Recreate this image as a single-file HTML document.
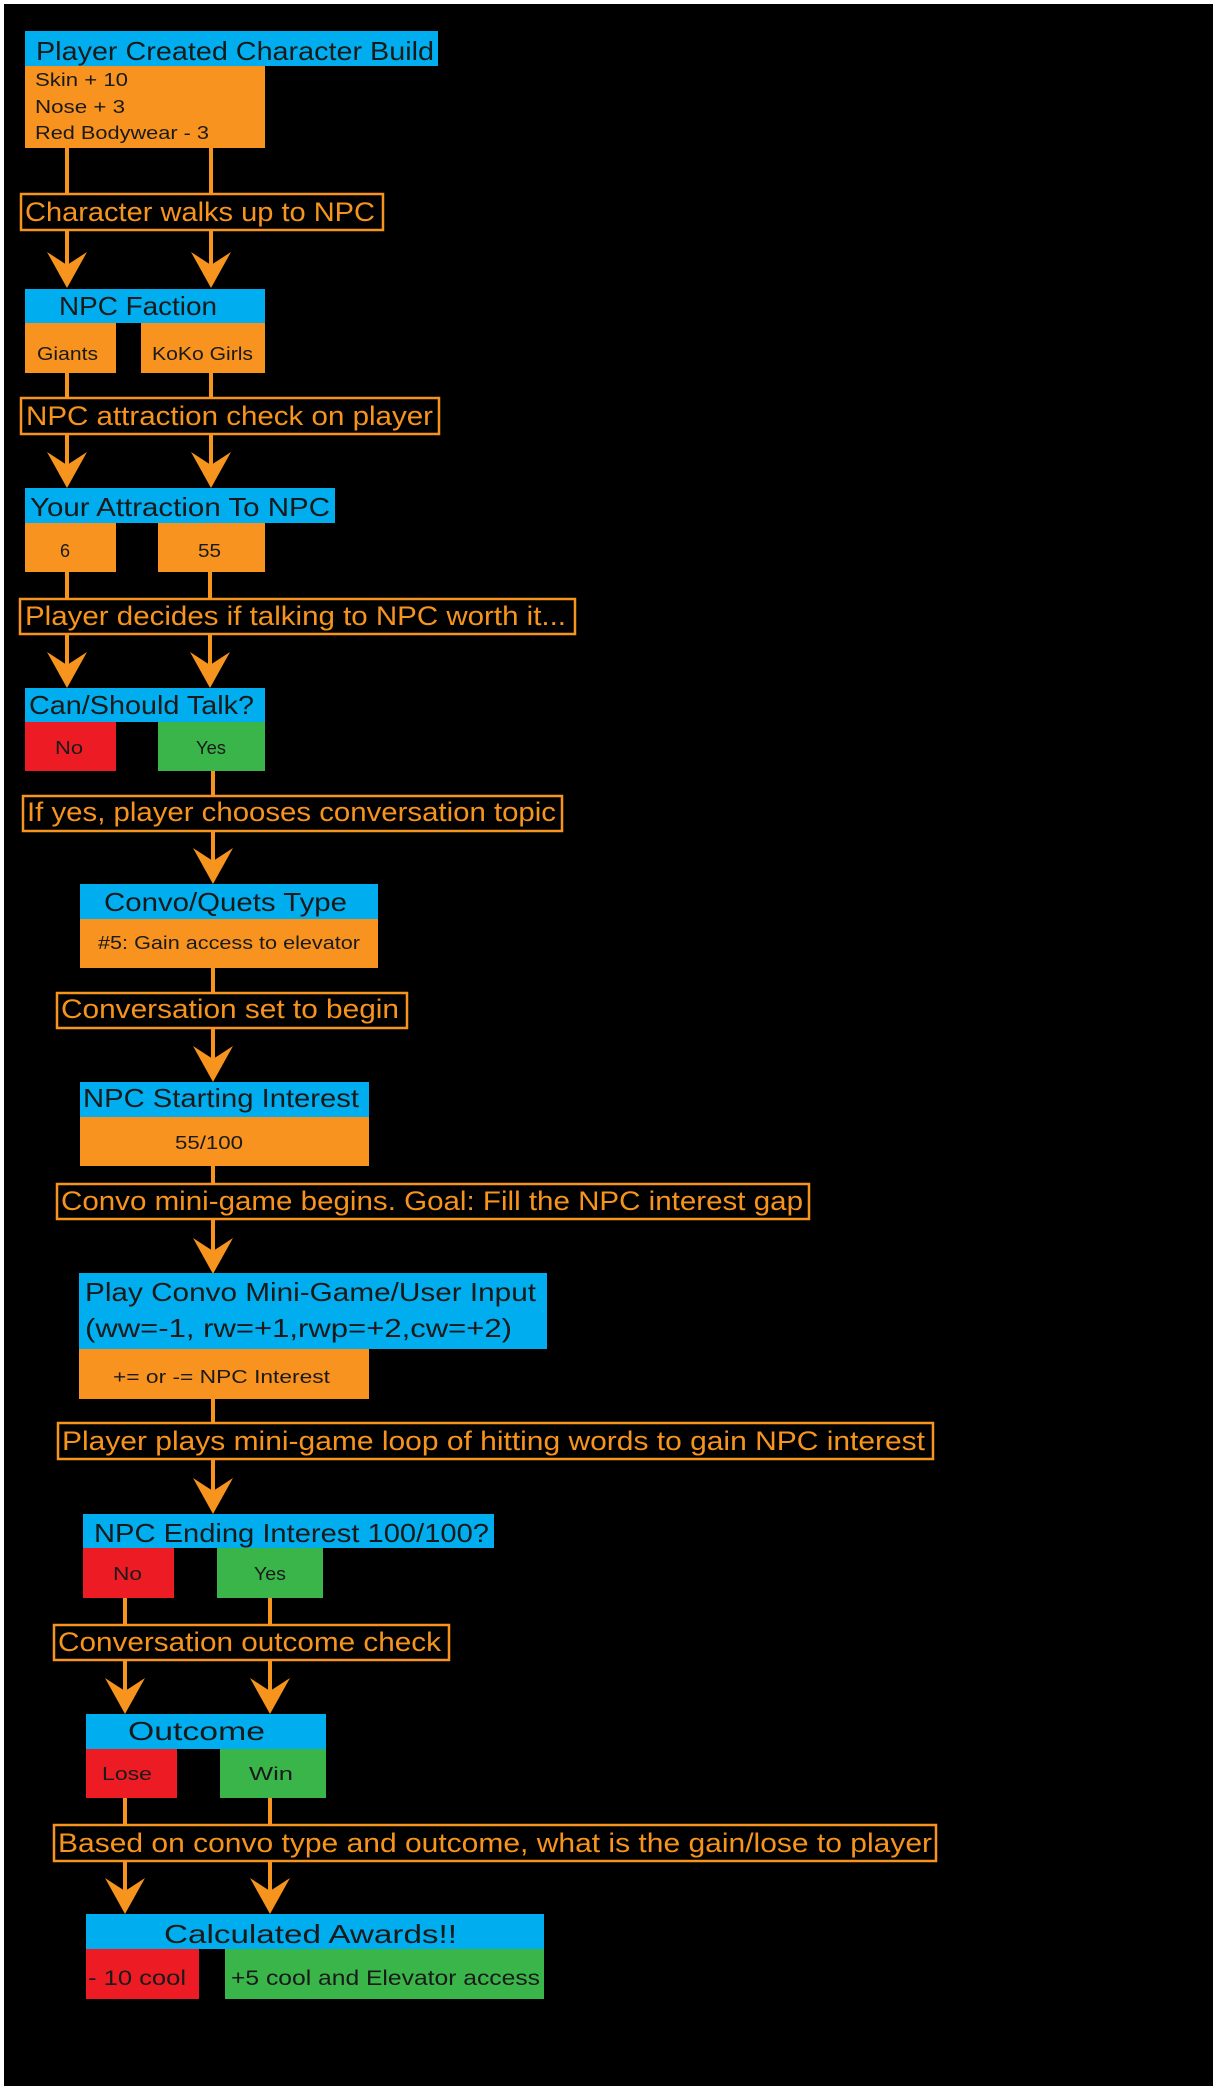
<!DOCTYPE html>
<html><head><meta charset="utf-8"><style>
html,body{margin:0;padding:0;background:#fff;}
svg{display:block;}
text{font-family:"Liberation Sans",sans-serif;}
.h{font-size:26px;fill:#1a1a1a;}
.s{font-size:18px;fill:#1a1a1a;}
.l{font-size:27px;fill:#F7941D;}
.lb{fill:#000;stroke:#F7941D;stroke-width:2.5;}
.ln{stroke:#F7941D;stroke-width:4;}
.ar{fill:#F7941D;}
</style></head><body>
<svg width="1218" height="2090" viewBox="0 0 1218 2090" xmlns="http://www.w3.org/2000/svg">
<defs>
<path id="a" d="M0 0 L-20 -36 L0 -23 L20 -36 Z"/>
</defs>
<rect x="4" y="4" width="1209" height="2082" fill="#000"/>

<!-- Block 1 -->
<rect x="25" y="31" width="413" height="35" fill="#00AEEF"/>
<text class="h" x="36" y="60" textLength="398" lengthAdjust="spacingAndGlyphs">Player Created Character Build</text>
<rect x="25" y="66" width="240" height="82" fill="#F7931E"/>
<text class="s" x="35" y="86" textLength="93" lengthAdjust="spacingAndGlyphs">Skin + 10</text>
<text class="s" x="35" y="113" textLength="90" lengthAdjust="spacingAndGlyphs">Nose + 3</text>
<text class="s" x="35" y="139" textLength="174" lengthAdjust="spacingAndGlyphs">Red Bodywear - 3</text>
<line class="ln" x1="67" y1="148" x2="67" y2="193"/><line class="ln" x1="211" y1="148" x2="211" y2="193"/>
<rect class="lb" x="21" y="194" width="362" height="36"/>
<text class="l" x="25" y="221" textLength="350" lengthAdjust="spacingAndGlyphs">Character walks up to NPC</text>
<line class="ln" x1="67" y1="230" x2="67" y2="275"/><line class="ln" x1="211" y1="230" x2="211" y2="275"/>
<use href="#a" x="67" y="288" class="ar"/><use href="#a" x="211" y="288" class="ar"/>

<rect x="25" y="289" width="240" height="34" fill="#00AEEF"/>
<text class="h" x="59" y="315" textLength="158" lengthAdjust="spacingAndGlyphs">NPC Faction</text>
<rect x="25" y="323" width="91" height="50" fill="#F7931E"/>
<rect x="141" y="323" width="124" height="50" fill="#F7931E"/>
<text class="s" x="37" y="360" textLength="61" lengthAdjust="spacingAndGlyphs">Giants</text>
<text class="s" x="152" y="360" textLength="101" lengthAdjust="spacingAndGlyphs">KoKo Girls</text>
<line class="ln" x1="67" y1="373" x2="67" y2="398"/><line class="ln" x1="211" y1="373" x2="211" y2="398"/>
<rect class="lb" x="21" y="398" width="418" height="36"/>
<text class="l" x="26" y="425" textLength="407" lengthAdjust="spacingAndGlyphs">NPC attraction check on player</text>
<line class="ln" x1="67" y1="434" x2="67" y2="475"/><line class="ln" x1="211" y1="434" x2="211" y2="475"/>
<use href="#a" x="67" y="488" class="ar"/><use href="#a" x="211" y="488" class="ar"/>

<rect x="25" y="488" width="310" height="35" fill="#00AEEF"/>
<text class="h" x="30" y="516" textLength="300" lengthAdjust="spacingAndGlyphs">Your Attraction To NPC</text>
<rect x="25" y="523" width="91" height="49" fill="#F7931E"/>
<rect x="158" y="523" width="107" height="49" fill="#F7931E"/>
<text class="s" x="60" y="557">6</text>
<text class="s" x="198" y="557" textLength="23" lengthAdjust="spacingAndGlyphs">55</text>
<line class="ln" x1="67" y1="572" x2="67" y2="599"/><line class="ln" x1="210" y1="572" x2="210" y2="599"/>
<rect class="lb" x="20" y="599" width="555" height="35"/>
<text class="l" x="25" y="625" textLength="541" lengthAdjust="spacingAndGlyphs">Player decides if talking to NPC worth it...</text>
<line class="ln" x1="67" y1="634" x2="67" y2="675"/><line class="ln" x1="210" y1="634" x2="210" y2="675"/>
<use href="#a" x="67" y="688" class="ar"/><use href="#a" x="210" y="688" class="ar"/>

<rect x="25" y="688" width="240" height="34" fill="#00AEEF"/>
<text class="h" x="29" y="714" textLength="225" lengthAdjust="spacingAndGlyphs">Can/Should Talk?</text>
<rect x="25" y="722" width="91" height="49" fill="#ED1C24"/>
<rect x="158" y="722" width="107" height="49" fill="#39B54A"/>
<text class="s" x="55" y="754" textLength="28" lengthAdjust="spacingAndGlyphs">No</text>
<text class="s" x="196" y="754" textLength="30" lengthAdjust="spacingAndGlyphs">Yes</text>
<line class="ln" x1="213" y1="771" x2="213" y2="796"/>
<rect class="lb" x="23" y="796" width="539" height="35"/>
<text class="l" x="27" y="821" textLength="529" lengthAdjust="spacingAndGlyphs">If yes, player chooses conversation topic</text>
<line class="ln" x1="213" y1="831" x2="213" y2="870"/>
<use href="#a" x="213" y="884" class="ar"/>

<rect x="80" y="884" width="298" height="35" fill="#00AEEF"/>
<text class="h" x="104" y="911" textLength="243" lengthAdjust="spacingAndGlyphs">Convo/Quets Type</text>
<rect x="80" y="919" width="298" height="49" fill="#F7931E"/>
<text class="s" x="98" y="949" textLength="262" lengthAdjust="spacingAndGlyphs">#5: Gain access to elevator</text>
<line class="ln" x1="213" y1="968" x2="213" y2="993"/>
<rect class="lb" x="57" y="993" width="350" height="35"/>
<text class="l" x="61" y="1018" textLength="338" lengthAdjust="spacingAndGlyphs">Conversation set to begin</text>
<line class="ln" x1="213" y1="1028" x2="213" y2="1068"/>
<use href="#a" x="213" y="1082" class="ar"/>

<rect x="80" y="1082" width="289" height="35" fill="#00AEEF"/>
<text class="h" x="83" y="1107" textLength="276" lengthAdjust="spacingAndGlyphs">NPC Starting Interest</text>
<rect x="80" y="1117" width="289" height="49" fill="#F7931E"/>
<text class="s" x="175" y="1149" textLength="68" lengthAdjust="spacingAndGlyphs">55/100</text>
<line class="ln" x1="213" y1="1166" x2="213" y2="1184"/>
<rect class="lb" x="57" y="1184" width="752" height="35"/>
<text class="l" x="61" y="1210" textLength="742" lengthAdjust="spacingAndGlyphs">Convo mini-game begins. Goal: Fill the NPC interest gap</text>
<line class="ln" x1="213" y1="1219" x2="213" y2="1260"/>
<use href="#a" x="213" y="1274" class="ar"/>

<rect x="79" y="1273" width="468" height="76" fill="#00AEEF"/>
<text class="h" x="85" y="1301" textLength="451" lengthAdjust="spacingAndGlyphs">Play Convo Mini-Game/User Input</text>
<text class="h" x="85" y="1337" textLength="427" lengthAdjust="spacingAndGlyphs">(ww=-1, rw=+1,rwp=+2,cw=+2)</text>
<rect x="79" y="1349" width="290" height="50" fill="#F7931E"/>
<text class="s" x="113" y="1383" textLength="217" lengthAdjust="spacingAndGlyphs">+= or -= NPC Interest</text>
<line class="ln" x1="213" y1="1399" x2="213" y2="1423"/>
<rect class="lb" x="58" y="1423" width="875" height="36"/>
<text class="l" x="62" y="1450" textLength="863" lengthAdjust="spacingAndGlyphs">Player plays mini-game loop of hitting words to gain NPC interest</text>
<line class="ln" x1="213" y1="1459" x2="213" y2="1500"/>
<use href="#a" x="213" y="1514" class="ar"/>

<rect x="83" y="1514" width="411" height="34" fill="#00AEEF"/>
<text class="h" x="94" y="1542" textLength="395" lengthAdjust="spacingAndGlyphs">NPC Ending Interest 100/100?</text>
<rect x="83" y="1548" width="91" height="50" fill="#ED1C24"/>
<rect x="217" y="1548" width="106" height="50" fill="#39B54A"/>
<text class="s" x="113" y="1580" textLength="29" lengthAdjust="spacingAndGlyphs">No</text>
<text class="s" x="254" y="1580" textLength="32" lengthAdjust="spacingAndGlyphs">Yes</text>
<line class="ln" x1="125" y1="1598" x2="125" y2="1625"/><line class="ln" x1="270" y1="1598" x2="270" y2="1625"/>
<rect class="lb" x="54" y="1625" width="395" height="35"/>
<text class="l" x="58" y="1651" textLength="383" lengthAdjust="spacingAndGlyphs">Conversation outcome check</text>
<line class="ln" x1="125" y1="1660" x2="125" y2="1700"/><line class="ln" x1="270" y1="1660" x2="270" y2="1700"/>
<use href="#a" x="125" y="1714" class="ar"/><use href="#a" x="270" y="1714" class="ar"/>

<rect x="86" y="1714" width="240" height="35" fill="#00AEEF"/>
<text class="h" x="128" y="1740" textLength="137" lengthAdjust="spacingAndGlyphs">Outcome</text>
<rect x="86" y="1749" width="91" height="49" fill="#ED1C24"/>
<rect x="220" y="1749" width="106" height="49" fill="#39B54A"/>
<text class="s" x="102" y="1780" textLength="50" lengthAdjust="spacingAndGlyphs">Lose</text>
<text class="s" x="249" y="1780" textLength="44" lengthAdjust="spacingAndGlyphs">Win</text>
<line class="ln" x1="125" y1="1798" x2="125" y2="1825"/><line class="ln" x1="270" y1="1798" x2="270" y2="1825"/>
<rect class="lb" x="54" y="1825" width="882" height="36"/>
<text class="l" x="58" y="1852" textLength="874" lengthAdjust="spacingAndGlyphs">Based on convo type and outcome, what is the gain/lose to player</text>
<line class="ln" x1="125" y1="1861" x2="125" y2="1900"/><line class="ln" x1="270" y1="1861" x2="270" y2="1900"/>
<use href="#a" x="125" y="1914" class="ar"/><use href="#a" x="270" y="1914" class="ar"/>

<rect x="86" y="1914" width="458" height="35" fill="#00AEEF"/>
<text class="h" x="164" y="1943" textLength="293" lengthAdjust="spacingAndGlyphs">Calculated Awards!!</text>
<rect x="86" y="1949" width="113" height="50" fill="#ED1C24"/>
<rect x="225" y="1949" width="319" height="50" fill="#39B54A"/>
<text class="s" x="88" y="1985" font-size="21" style="font-size:21px" textLength="98" lengthAdjust="spacingAndGlyphs">- 10 cool</text>
<text class="s" x="231" y="1985" style="font-size:21px" textLength="309" lengthAdjust="spacingAndGlyphs">+5 cool and Elevator access</text>
</svg>
</body></html>
